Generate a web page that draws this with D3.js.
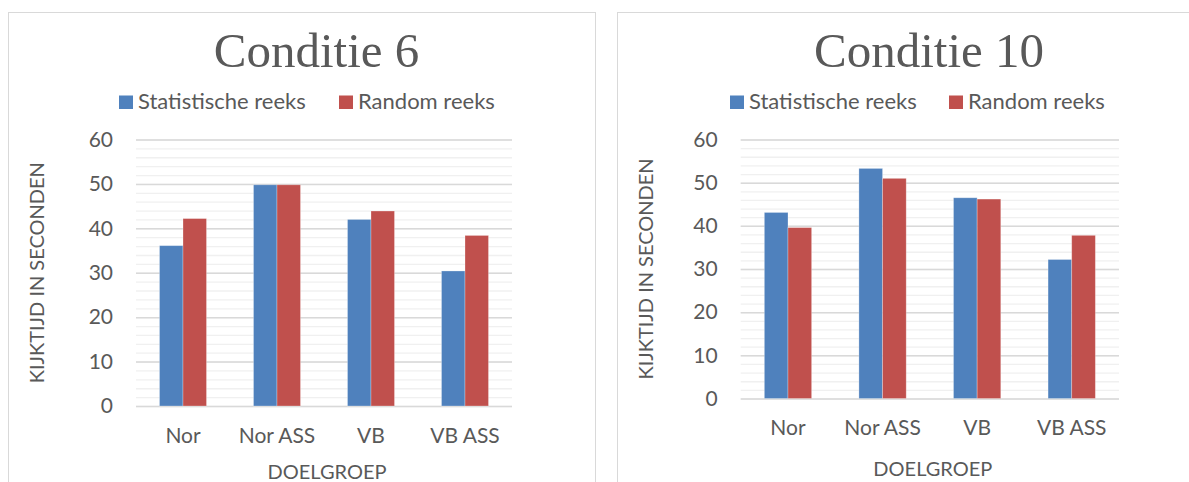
<!DOCTYPE html>
<html>
<head>
<meta charset="utf-8">
<script src="https://cdn.jsdelivr.net/npm/d3@7"></script>
<style>
  html, body { margin: 0; padding: 0; background: #fff; }
  svg { display: block; }
</style>
</head>
<body>
<svg id="chart" width="1189" height="482"></svg>
<script>
// ---- data ----
const categories = ["Nor", "Nor ASS", "VB", "VB ASS"];
const seriesNames = ["Statistische reeks", "Random reeks"];
const seriesColors = ["#4F81BD", "#C0504D"];
const yTickValues = [0, 10, 20, 30, 40, 50, 60];
const conditie6Statistisch = [36.1, 49.8, 42.0, 30.4];
const conditie6Random = [42.2, 49.8, 43.9, 38.4];
const conditie10Statistisch = [43.1, 53.3, 46.5, 32.2];
const conditie10Random = [39.6, 51.0, 46.2, 37.8];

const panels = [
  { title: "Conditie 6", series: [conditie6Statistisch, conditie6Random],
    frameX: 8, frameW: 587, plot: { x0: 136, x1: 512, y0: 139.5, y1: 406 },
    titleX: 316.5, legendX: [119, 339], axisTitleX: 37, xTitleY: 472 },
  { title: "Conditie 10", series: [conditie10Statistisch, conditie10Random],
    frameX: 617, frameW: 600, plot: { x0: 740.7, x1: 1119, y0: 139.5, y1: 398.5 },
    titleX: 929, legendX: [730, 949], axisTitleX: 646, xTitleY: 469 }
];

const svg = d3.select("#chart");
const textColor = "#595959";
const font = "Lato, 'Open Sans', sans-serif";

panels.forEach(p => {
  const g = svg.append("g");
  // frame
  g.append("rect")
    .attr("x", p.frameX + 0.5).attr("y", 12.5)
    .attr("width", p.frameW).attr("height", 500)
    .attr("fill", "#fff").attr("stroke", "#d9d9d9").attr("stroke-width", 1);

  // title
  g.append("text")
    .attr("x", p.titleX).attr("y", 67)
    .attr("text-anchor", "middle")
    .attr("font-family", "'Liberation Serif', 'DejaVu Serif', serif")
    .attr("font-size", 49)
    .attr("fill", textColor)
    .text(p.title);

  // legend
  seriesNames.forEach((name, i) => {
    const lx = p.legendX[i];
    g.append("rect")
      .attr("x", lx).attr("y", 95.5)
      .attr("width", 14).attr("height", 13.5)
      .attr("fill", seriesColors[i]);
    g.append("text")
      .attr("x", lx + 19).attr("y", 109)
      .attr("font-family", font).attr("font-size", 22)
      .attr("fill", textColor)
      .text(name);
  });

  const { x0, x1, y0, y1 } = p.plot;
  const y = d3.scaleLinear().domain([0, 60]).range([y1, y0]);
  const x = d3.scaleBand().domain(categories).range([x0, x1])
    .paddingInner(0.5).paddingOuter(0.25);
  const xs = d3.scaleBand().domain(seriesNames).range([0, x.bandwidth()]);

  // minor gridlines
  g.append("g")
    .attr("transform", `translate(${x0},0)`)
    .call(d3.axisLeft(y).tickValues(d3.range(0, 61, 2)).tickSize(-(x1 - x0)).tickFormat(""))
    .call(a => a.select(".domain").remove())
    .call(a => a.selectAll("line").attr("stroke", "#f0f0f0").attr("stroke-width", 1.3));

  // major gridlines
  g.append("g")
    .attr("transform", `translate(${x0},0)`)
    .call(d3.axisLeft(y).tickValues(yTickValues).tickSize(-(x1 - x0)).tickFormat(""))
    .call(a => a.select(".domain").remove())
    .call(a => a.selectAll("line").attr("stroke", "#d9d9d9").attr("stroke-width", 1.5));

  // y tick labels
  g.append("g")
    .attr("transform", `translate(${x0},0)`)
    .call(d3.axisLeft(y).tickValues(yTickValues).tickSize(0).tickPadding(23))
    .call(a => a.select(".domain").remove())
    .call(a => a.selectAll("text")
      .attr("font-family", font).attr("font-size", 21).attr("fill", textColor));

  // bars
  p.series.forEach((vals, si) => {
    g.append("g").selectAll("rect")
      .data(vals)
      .join("rect")
      .attr("x", (d, i) => x(categories[i]) + xs(seriesNames[si]))
      .attr("y", d => y(d))
      .attr("width", xs.bandwidth())
      .attr("height", d => y(0) - y(d))
      .attr("fill", seriesColors[si])
      .attr("stroke", "#ffffff").attr("stroke-opacity", 0.35).attr("stroke-width", 0.8);
  });

  // x tick labels
  g.append("g")
    .attr("transform", `translate(0,${y1})`)
    .call(d3.axisBottom(x).tickSize(0).tickPadding(22))
    .call(a => a.select(".domain").remove())
    .call(a => a.selectAll("text")
      .attr("font-family", font).attr("font-size", 21).attr("fill", textColor));

  // x axis title
  g.append("text")
    .attr("x", (x0 + x1) / 2 + 3).attr("y", p.xTitleY).attr("dy", "0.35em")
    .attr("text-anchor", "middle")
    .attr("font-family", font).attr("font-size", 20).attr("fill", textColor)
    .text("DOELGROEP");

  // y axis title
  g.append("text")
    .attr("transform", `translate(${p.axisTitleX},${(y0 + y1) / 2}) rotate(-90)`)
    .attr("dy", "0.35em")
    .attr("text-anchor", "middle")
    .attr("font-family", font).attr("font-size", 20).attr("fill", textColor)
    .text("KIJKTIJD IN SECONDEN");
});
</script>
</body>
</html>
